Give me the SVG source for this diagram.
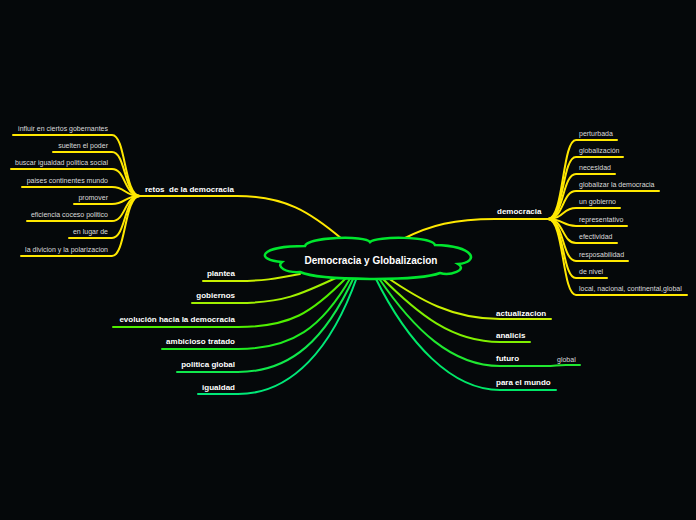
<svg xmlns="http://www.w3.org/2000/svg" width="696" height="520" viewBox="0 0 696 520">
<style>
.bg{fill:#05080a}
.ln{fill:none;stroke-width:2;stroke-linecap:round}
.y{stroke:#ffe800}
.lbl{font-family:"Liberation Sans",Arial,sans-serif;font-size:8px;font-weight:bold;fill:#ffffff}
.sub{font-family:"Liberation Sans",Arial,sans-serif;font-size:7px;fill:#dcdcdc}
.r{text-anchor:end}
</style>
<rect class="bg" x="0" y="0" width="696" height="520"/>
<g id="connectors">
<path class="ln y" d="M342,239 C310,212 285,196 237,196 H140"/>
<path class="ln y" d="M403,239 C430,225 455,219 495,219 H548"/>
<path class="ln y" d="M140,196 C124,196 126,135 112,135 H13"/>
<path class="ln y" d="M140,196 C124,196 126,152 112,152 H53"/>
<path class="ln y" d="M140,196 C124,196 126,169 112,169 H11"/>
<path class="ln y" d="M140,196 C124,196 126,187 112,187 H22"/>
<path class="ln y" d="M140,196 C124,196 126,204 112,204 H74"/>
<path class="ln y" d="M140,196 C124,196 126,221 112,221 H27"/>
<path class="ln y" d="M140,196 C124,196 126,238 112,238 H69"/>
<path class="ln y" d="M140,196 C124,196 126,256 112,256 H21"/>
<path class="ln y" d="M548,219 C564,219 562,140 576,140 H617"/>
<path class="ln y" d="M548,219 C564,219 562,157 576,157 H623"/>
<path class="ln y" d="M548,219 C564,219 562,174 576,174 H615"/>
<path class="ln y" d="M548,219 C564,219 562,191 576,191 H659"/>
<path class="ln y" d="M548,219 C564,219 562,208 576,208 H620"/>
<path class="ln y" d="M548,219 C564,219 562,226 576,226 H627"/>
<path class="ln y" d="M548,219 C564,219 562,243 576,243 H617"/>
<path class="ln y" d="M548,219 C564,219 562,261 576,261 H628"/>
<path class="ln y" d="M548,219 C564,219 562,278 576,278 H607"/>
<path class="ln y" d="M548,219 C564,219 562,295 576,295 H687"/>
<path class="ln" stroke="#c8f000" d="M300,274 C275,279 262,281 238,281 H203"/>
<path class="ln" stroke="#a0f000" d="M340,276 C300,295 282,303 238,303 H192"/>
<path class="ln" stroke="#50f000" d="M347,277 C312,313 290,327 238,327 H113"/>
<path class="ln" stroke="#20ec20" d="M351,277 C322,328 292,349 238,349 H162"/>
<path class="ln" stroke="#10e84c" d="M354,277 C326,338 292,372 238,372 H177"/>
<path class="ln" stroke="#00e878" d="M357,277 C332,348 292,394 238,394 H198"/>
<path class="ln" stroke="#c8f000" d="M385,276 C420,300 452,319 500,319 H551"/>
<path class="ln" stroke="#80f000" d="M381,277 C418,314 452,342 500,342 H530"/>
<path class="ln" stroke="#20e830" d="M378,277 C414,330 452,366 500,366 H545 C556,366 556,365 566,365 H580"/>
<path class="ln" stroke="#00e868" d="M375,277 C408,344 452,390 500,390 H556"/>
</g>
<g id="center">
<path d="M282,262 C255,260 258,246 305,246 C308,237 365,235 370,242 C376,236 432,236 435,245 C475,246 480,262 458,264 C468,270 450,276 440,273 C420,281 320,281 300,272 C286,273 276,267 282,262 Z" fill="#05080a" stroke="#00e62e" stroke-width="2.5"/>
<text x="371" y="264" text-anchor="middle" font-family="Liberation Sans, Arial, sans-serif" font-size="10" font-weight="bold" fill="#ffffff">Democracia y Globalizacion</text>
</g>
<g id="retos"><text class="lbl" x="145" y="191.5">retos &#160;de la democracia</text></g>
<g id="l1"><text class="sub r" x="108" y="130.5">influir en ciertos gobernantes</text></g>
<g id="l2"><text class="sub r" x="108" y="147.5">suelten el poder</text></g>
<g id="l3"><text class="sub r" x="108" y="164.5">buscar igualdad politica social</text></g>
<g id="l4"><text class="sub r" x="108" y="182.5">paises continentes mundo</text></g>
<g id="l5"><text class="sub r" x="108" y="199.5">promover</text></g>
<g id="l6"><text class="sub r" x="108" y="216.5">eficiencia coceso politico</text></g>
<g id="l7"><text class="sub r" x="108" y="233.5">en lugar de</text></g>
<g id="l8"><text class="sub r" x="108" y="251.5">la divicion y la polarizacion</text></g>
<g id="democracia"><text class="lbl" x="497" y="214">democracia</text></g>
<g id="d1"><text class="sub" x="579" y="135.5">perturbada</text></g>
<g id="d2"><text class="sub" x="579" y="152.5">globalización</text></g>
<g id="d3"><text class="sub" x="579" y="169.5">necesidad</text></g>
<g id="d4"><text class="sub" x="579" y="186.5">globalizar la democracia</text></g>
<g id="d5"><text class="sub" x="579" y="203.5">un gobierno</text></g>
<g id="d6"><text class="sub" x="579" y="221.5">representativo</text></g>
<g id="d7"><text class="sub" x="579" y="238.5">efectividad</text></g>
<g id="d8"><text class="sub" x="579" y="256.5">resposabilidad</text></g>
<g id="d9"><text class="sub" x="579" y="273.5">de nivel</text></g>
<g id="d10"><text class="sub" x="579" y="290.5">local, nacional, continental,global</text></g>
<g id="plantea"><text class="lbl r" x="235" y="276">plantea</text></g>
<g id="gobiernos"><text class="lbl r" x="235" y="298">gobiernos</text></g>
<g id="evolucion"><text class="lbl r" x="235" y="321.5">evolución hacia la democracia</text></g>
<g id="ambicioso"><text class="lbl r" x="235" y="344">ambicioso tratado</text></g>
<g id="politica"><text class="lbl r" x="235" y="367">politica global</text></g>
<g id="igualdad"><text class="lbl r" x="235" y="389.5">igualdad</text></g>
<g id="actualizacion"><text class="lbl" x="496" y="315.5">actualizacion</text></g>
<g id="analicis"><text class="lbl" x="496" y="337.5">analicis</text></g>
<g id="futuro"><text class="lbl" x="496" y="361">futuro</text></g>
<g id="global"><text class="sub" x="557" y="361.5">global</text></g>
<g id="mundo"><text class="lbl" x="496" y="385">para el mundo</text></g>
</svg>
